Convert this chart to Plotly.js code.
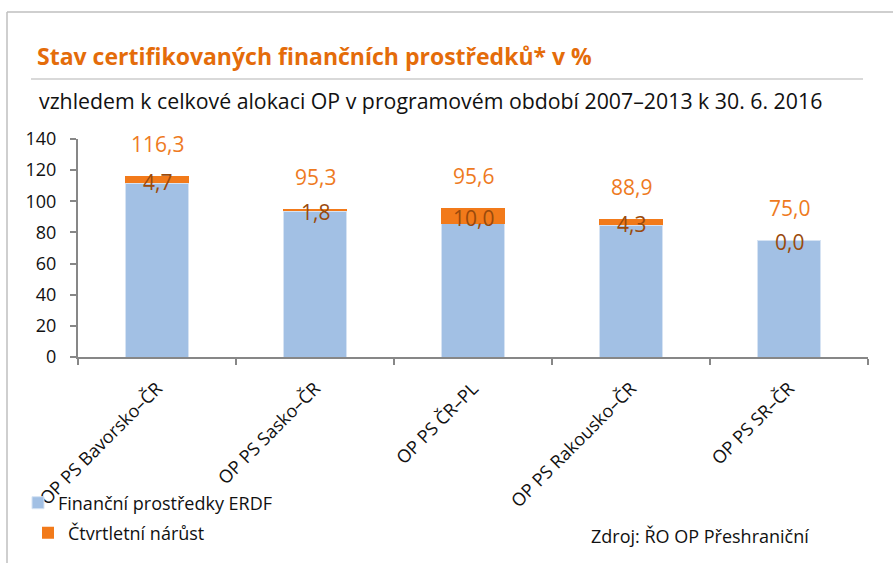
<!DOCTYPE html>
<html>
<head>
<meta charset="utf-8">
<script src="https://cdn.plot.ly/plotly-3.0.1.min.js"></script>
<style>html,body{margin:0;padding:0;background:#fff;}#chart{width:893px;height:563px;}</style>
</head>
<body>
<div id="chart"></div>
<script>
const categories = ["OP PS Bavorsko–ČR", "OP PS Sasko–ČR", "OP PS ČR–PL", "OP PS Rakousko–ČR", "OP PS SR–ČR"];
const totals = [116.3, 95.3, 95.6, 88.9, 75.0];
const growth = [4.7, 1.8, 10.0, 4.3, 0.0];
const base = totals.map((t, i) => +(t - growth[i]).toFixed(1));
const yTicks = [0, 20, 40, 60, 80, 100, 120, 140];
const seriesNames = ["Finanční prostředky ERDF", "Čtvrtletní nárůst"];

const fmt = v => v.toFixed(1).replace('.', ',');
const FONT = "Open Sans, Noto Sans, sans-serif";

const W = 893, H = 563, L = 78, R = 25, T = 139, B = 206;
const pw = W - L - R, ph = H - T - B;
const px = x => (x - L) / pw;
const py = y => (H - B - y) / ph;

const traces = [
  {type: 'bar', x: categories, y: base, name: seriesNames[0], legend: 'legend',
   marker: {color: '#A2C0E4', line: {color: '#D6E3F3', width: 1}}, hoverinfo: 'none'},
  {type: 'bar', x: categories, y: growth, name: seriesNames[1], legend: 'legend2',
   marker: {color: '#F27A1A', line: {width: 0}}, hoverinfo: 'none'}
];

const annotations = [];
categories.forEach((c, i) => {
  annotations.push({x: c, y: totals[i], xref: 'x', yref: 'y', text: fmt(totals[i]), showarrow: false,
    yshift: 32, yanchor: 'middle', font: {family: FONT, size: 21, color: '#EE7A1E'}});
  annotations.push({x: c, y: base[i] + growth[i] / 2, xref: 'x', yref: 'y', text: fmt(growth[i]), showarrow: false,
    yshift: -2, yanchor: 'middle', font: {family: FONT, size: 21, color: '#9A4A0C'}});
});
annotations.push({xref: 'paper', yref: 'paper', x: px(37), y: py(100), xanchor: 'left', yanchor: 'middle',
  text: 'vzhledem k celkové alokaci OP v programovém období 2007–2013 k 30. 6. 2016', showarrow: false,
  font: {family: FONT, size: 21.3, color: '#111'}});
annotations.push({xref: 'paper', yref: 'paper', x: px(589), y: py(536), xanchor: 'left', yanchor: 'middle',
  text: 'Zdroj: ŘO OP Přeshraniční', showarrow: false, font: {family: FONT, size: 18, color: '#111'}});

const shapes = [
  {type: 'line', xref: 'paper', yref: 'paper', x0: px(7), x1: px(893), y0: py(12), y1: py(12), line: {color: '#BFBFBF', width: 1.5}},
  {type: 'line', xref: 'paper', yref: 'paper', x0: px(7), x1: px(7), y0: py(12), y1: py(563), line: {color: '#BFBFBF', width: 1.5}},
  {type: 'line', xref: 'paper', yref: 'paper', x0: px(31), x1: px(863), y0: py(79), y1: py(79), line: {color: '#D9D9D9', width: 2}}
];

const legendBase = {xref: 'paper', yref: 'paper', xanchor: 'left', yanchor: 'middle', bgcolor: 'rgba(0,0,0,0)',
  font: {family: FONT, size: 18, color: '#111'}};

const layout = {
  width: W, height: H,
  margin: {l: L, r: R, t: T, b: B, pad: 0},
  paper_bgcolor: '#fff', plot_bgcolor: '#fff',
  barmode: 'stack', bargap: 0.6,
  title: {text: 'Stav certifikovaných finančních prostředků* v %', xref: 'container', yref: 'container',
    x: 37 / W, xanchor: 'left', y: 1 - 57 / H, yanchor: 'middle',
    font: {family: FONT, size: 23, color: '#E46C0A', weight: 'bold'}},
  xaxis: {type: 'category', showline: true, linecolor: '#878787', linewidth: 2, ticks: 'outside', ticklen: 6,
    tickcolor: '#878787', tickwidth: 2, tickson: 'boundaries', tickangle: -45, showgrid: false,
    ticklabelstandoff: 12,
    tickfont: {family: FONT, size: 18, color: '#111'}, fixedrange: true, automargin: false},
  yaxis: {range: [0, 140], tickvals: yTicks, showline: true, linecolor: '#878787', linewidth: 2, ticks: 'outside',
    ticklen: 6, tickcolor: '#878787', tickwidth: 2, showgrid: false, zeroline: false, ticklabelstandoff: 10,
    tickfont: {family: FONT, size: 18, color: '#111'}, fixedrange: true, automargin: false},
  showlegend: true,
  legend: Object.assign({}, legendBase, {x: px(18), y: py(503)}),
  legend2: Object.assign({}, legendBase, {x: px(28), y: py(533)}),
  annotations: annotations,
  shapes: shapes
};

Plotly.newPlot('chart', traces, layout, {displayModeBar: false, staticPlot: true});
</script>
</body>
</html>
